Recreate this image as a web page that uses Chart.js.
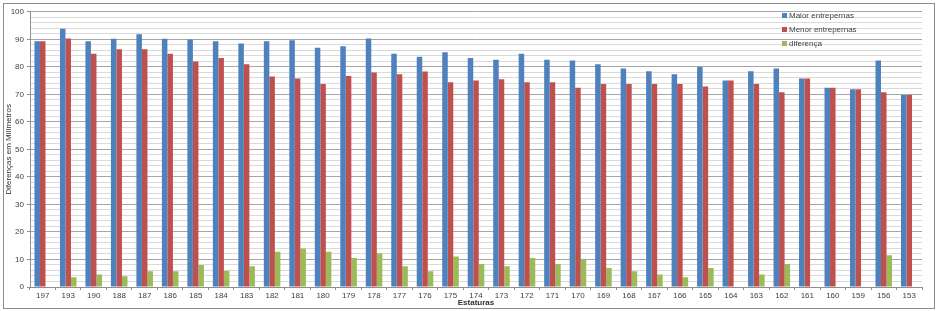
<!DOCTYPE html>
<html>
<head>
<meta charset="utf-8">
<script src="https://cdn.jsdelivr.net/npm/chart.js@4/dist/chart.umd.min.js"></script>
<style>
  body { margin: 0; background: #fff; font-family: "Liberation Sans", Arial, sans-serif; }
  #box { position: absolute; left: 3px; top: 3px; width: 930px; height: 304px; border: 1px solid #8e8e8e; }
  #legend { position: absolute; left: 778px; top: 5px; font-size: 8px; color: #404040; }
  #legend div { height: 14px; line-height: 14px; white-space: nowrap; }
  #legend span { display: inline-block; width: 5px; height: 5px; margin-right: 2px; vertical-align: 0; }
</style>
</head>
<body>
<div id="box">
  <canvas id="chart" width="930" height="304"></canvas>
  <div id="legend"></div>
</div>
<script>
// estaturas (cm)
const estaturas = ["197","193","190","188","187","186","185","184","183","182","181","180","179","178","177","176","175","174","173","172","171","170","169","168","167","166","165","164","163","162","161","160","159","156","153"];

const maiorEntrepernas = [89.3,93.8,89.3,90.2,91.8,90.2,89.9,89.3,88.5,89.3,89.7,86.9,87.5,90.3,84.8,83.7,85.3,83.2,82.6,84.8,82.6,82.3,80.9,79.4,78.4,77.3,79.9,75.0,78.4,79.4,75.8,72.4,71.9,82.3,69.8];
const menorEntrepernas = [89.3,90.3,84.8,86.4,86.4,84.8,81.9,83.2,80.9,76.5,75.8,73.8,76.7,77.9,77.3,78.3,74.4,75.0,75.5,74.4,74.4,72.4,73.8,73.8,73.8,73.8,72.9,75.0,73.8,70.8,75.8,72.4,71.9,70.8,69.8];
const diferenca = [0,3.5,4.5,3.9,5.7,5.7,8.0,5.9,7.5,12.8,14.0,12.8,10.5,12.3,7.5,5.7,11.1,8.4,7.5,10.5,8.4,9.9,6.9,5.7,4.5,3.5,6.9,0,4.5,8.4,0,0,0,11.5,0];

const seriesNames = ["Maior entrepernas", "Menor entrepernas", "diferença"];
const colors = ["#4f81bd", "#c0504d", "#9bbb59"];

const font = { family: "'Liberation Sans', Arial, sans-serif", size: 8 };

new Chart(document.getElementById("chart"), {
  type: "bar",
  data: {
    labels: estaturas,
    datasets: [maiorEntrepernas, menorEntrepernas, diferenca].map((d, i) => ({
      label: seriesNames[i],
      data: d,
      backgroundColor: colors[i],
      categoryPercentage: 0.65,
      barPercentage: 1.0
    }))
  },
  options: {
    responsive: false,
    devicePixelRatio: 1,
    animation: false,
    layout: { padding: { top: 7, right: 12, left: 0, bottom: 0 } },
    plugins: { legend: { display: false }, tooltip: { enabled: false } },
    scales: {
      x: {
        grid: { offset: true, drawOnChartArea: false, drawTicks: true, tickLength: 3, color: "#8e8e8e" },
        border: { color: "#8e8e8e" },
        ticks: { font: font, color: "#404040", padding: 1, maxRotation: 0, autoSkip: false },
        title: { display: true, text: "Estaturas", font: { family: font.family, size: 8, weight: "bold" }, color: "#303030", padding: { top: 0, bottom: 0 } },
        afterFit: s => { s.height = 21; }
      },
      y: {
        min: 0,
        max: 100,
        ticks: {
          stepSize: 2,
          font: font,
          color: "#404040",
          padding: 3,
          autoSkip: false,
          callback: v => (v % 10 === 0 ? v : "")
        },
        grid: {
          tickLength: 3,
          color: ctx => (ctx.tick && ctx.tick.value % 10 === 0 ? "#a6a6a6" : "#dadada"),
          tickColor: ctx => (ctx.tick && ctx.tick.value % 10 === 0 ? "#8e8e8e" : "rgba(0,0,0,0)")
        },
        border: { color: "#8e8e8e" },
        title: { display: true, text: "Diferenças em Milímetros", font: font, color: "#303030", padding: 0 },
        afterFit: s => { s.width = 26; }
      }
    }
  }
});

// legend drawn inside the plot area, top right
const lg = document.getElementById("legend");
seriesNames.forEach((n, i) => {
  const row = document.createElement("div");
  row.innerHTML = '<span style="background:' + colors[i] + '"></span>' + n;
  lg.appendChild(row);
});
</script>
</body>
</html>
